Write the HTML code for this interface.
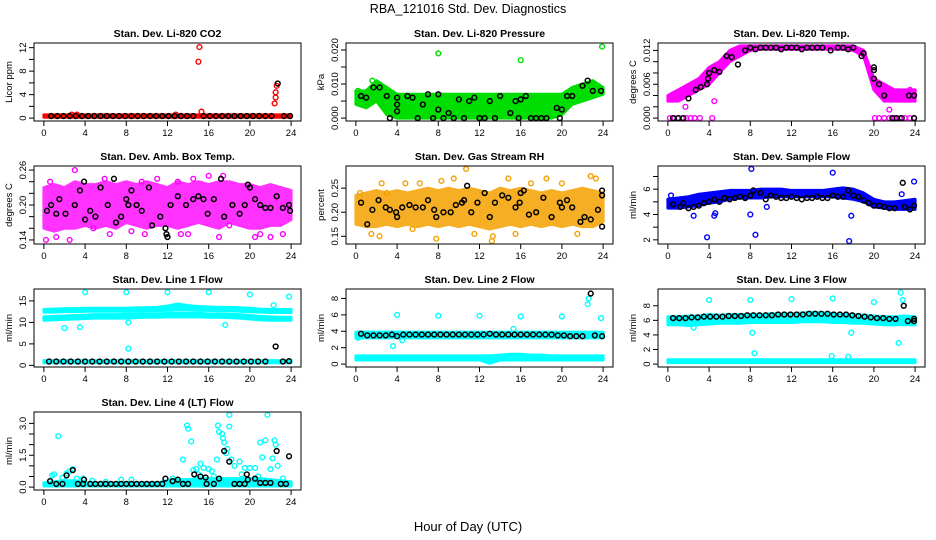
<!DOCTYPE html>
<html><head><meta charset="utf-8"><style>
body{margin:0;background:#fff}
svg{display:block;font-family:"Liberation Sans",sans-serif}
</style></head><body>
<svg id="chart" width="936" height="540" viewBox="0 0 936 540">
<rect width="936" height="540" fill="#fff"/>
<text x="468" y="13" font-size="12.5" text-anchor="middle">RBA_121016  Std. Dev. Diagnostics</text>
<text x="468" y="531" font-size="13" text-anchor="middle">Hour of Day (UTC)</text>
</svg>
<script>
const T=[0,1,2,3,4,5,6,7,8,9,10,11,12,13,14,15,16,17,18,19,20,21,22,23,24];
const XTICKS=[0,4,8,12,16,20,24];
// Panel 1 CO2
const co2Lo=T.map(()=>0.15);
const co2Hi=T.map(()=>0.55);
const co2Pts=[[15.0,9.6],[15.1,12.1],[15.3,1.1],[22.4,2.5],[22.5,3.5],[22.5,4.4],[22.6,5.5],[2.7,0.6],[3.2,0.6],[12.8,0.6]];
const co2Blk=[[0.7,0.35],[1.3,0.35],[1.9,0.35],[2.5,0.35],[3.1,0.35],[3.7,0.35],[4.3,0.35],[4.9,0.35],[5.5,0.35],[6.1,0.35],[6.7,0.35],[7.3,0.35],[7.9,0.35],[8.5,0.35],[9.1,0.35],[9.7,0.35],[10.3,0.35],[10.9,0.35],[11.5,0.35],[12.1,0.35],[12.7,0.35],[13.3,0.35],[13.9,0.35],[14.5,0.35],[15.5,0.35],[16.1,0.35],[16.7,0.35],[17.3,0.35],[17.9,0.35],[18.5,0.35],[19.1,0.35],[19.7,0.35],[20.3,0.35],[20.9,0.35],[21.5,0.35],[22.1,0.35],[22.7,5.9],[23.3,0.35],[23.9,0.35]];
// Panel 2 Pressure
const prLo=[0.004,0.003,0.005,0.001,0,0,0,0,0,0,0,0,0,0,0,0,0,0,0,0,0.001,0.004,0.005,0.006,0.007];
const prHi=[0.008,0.008,0.011,0.009,0.007,0.007,0.007,0.007,0.007,0.007,0.007,0.007,0.007,0.007,0.007,0.007,0.007,0.007,0.007,0.007,0.007,0.009,0.010,0.011,0.009];
const prPts=[[8,0.019],[16,0.017],[23.9,0.021],[0.2,0.008],[1.6,0.011]];
const prBlk=[[0.5,0.0065],[1,0.006],[1.7,0.009],[2.3,0.009],[3,0.0065],[3.3,0],[4,0.002],[4,0.004],[4,0.006],[5,0.0065],[5.5,0.006],[6,0],[6.5,0.004],[7,0.007],[7.5,0],[8,0.007],[8,0.0025],[8.5,0],[9,0.0015],[9.5,0],[10,0.0055],[10.5,0],[11,0.005],[11.5,0.006],[12,0],[12.5,0],[13,0.005],[13.5,0],[14,0.0065],[15,0.0015],[15.5,0.005],[15.8,0],[16,0.0055],[16.5,0.0065],[17,0],[17.5,0],[18,0],[18.5,0],[19.5,0.003],[19.8,0],[20,0.0025],[20.5,0.0065],[21,0.0065],[22,0.0095],[22.5,0.011],[23,0.008],[23.8,0.008]];
// Panel 3 Temp
const tpLo=[0.003,0.003,0.004,0.005,0.006,0.008,0.010,0.011,0.012,0.0122,0.0122,0.0122,0.0122,0.0122,0.0122,0.0122,0.0122,0.0122,0.012,0.011,0.005,0.003,0.003,0.003,0.003];
const tpHi=[0.004,0.005,0.006,0.007,0.009,0.010,0.012,0.0128,0.0128,0.0128,0.0128,0.0128,0.0128,0.0128,0.0128,0.0128,0.0128,0.0128,0.0128,0.012,0.007,0.006,0.005,0.005,0.005];
const tpPts=[[0.2,0],[0.6,0],[1.0,0],[1.4,0],[1.8,0],[2.2,0],[2.6,0],[3.1,0],[4.3,0],[20.1,0],[20.5,0],[21,0],[21.5,0],[22,0],[22.5,0],[23,0],[23.5,0],[23.9,0],[1.7,0.002],[4.5,0.003],[20.5,0.005],[21.5,0.0015],[23.5,0.005]];
const tpBlk=[[0.5,0],[1,0],[1.5,0],[2,0.0035],[2.7,0.005],[3.2,0.0055],[3.8,0.006],[3.9,0.007],[4,0.008],[4.5,0.0085],[5,0.0082],[5.7,0.011],[6.2,0.0108],[6.8,0.0095],[7.5,0.012],[8,0.0125],[8.5,0.0122],[9,0.0125],[9.5,0.0125],[10,0.0125],[10.5,0.0125],[11,0.0122],[11.5,0.0125],[12,0.0125],[12.5,0.0125],[13,0.0122],[13.5,0.0125],[14,0.0125],[14.5,0.0125],[15,0.0125],[15.8,0.012],[16.5,0.0125],[17,0.0125],[17.5,0.0122],[18,0.0125],[18.8,0.011],[19,0.0115],[20,0.009],[20,0.0085],[20,0.007],[20.5,0.006],[21,0.004],[21.8,0],[22.2,0],[22.7,0],[23.4,0.004],[23.9,0.004],[23.9,0]];
// Panel 4 Amb Box Temp
const abLo=[0.16,0.155,0.16,0.16,0.165,0.16,0.165,0.16,0.17,0.165,0.16,0.165,0.165,0.16,0.165,0.17,0.165,0.16,0.17,0.165,0.16,0.16,0.165,0.165,0.175];
const abHi=[0.23,0.235,0.23,0.24,0.235,0.235,0.24,0.235,0.24,0.235,0.24,0.235,0.23,0.24,0.235,0.24,0.235,0.24,0.24,0.235,0.235,0.23,0.235,0.23,0.225];
const abPts=[[0.2,0.14],[0.6,0.24],[1.2,0.145],[2.5,0.14],[3.0,0.26],[5.9,0.245],[6.4,0.15],[9.8,0.15],[11.0,0.245],[13.0,0.24],[13.3,0.15],[14.0,0.15],[14.5,0.245],[16.0,0.25],[17.0,0.145],[17.4,0.25],[20.5,0.145],[21.0,0.15],[22.0,0.145],[23.2,0.15],[8.5,0.155],[9.5,0.24],[18.0,0.165],[4.8,0.16]];
const abBlk=[[0.3,0.19],[0.7,0.2],[1.2,0.185],[1.5,0.21],[2.1,0.185],[3.0,0.2],[3.5,0.225],[3.9,0.24],[4.0,0.175],[4.5,0.19],[5.0,0.18],[5.5,0.23],[6.2,0.2],[6.8,0.245],[7.0,0.17],[7.5,0.18],[8.0,0.21],[8.2,0.2],[8.5,0.225],[9.0,0.2],[9.5,0.19],[10.2,0.23],[10.5,0.165],[11.3,0.18],[11.8,0.16],[11.9,0.15],[12.0,0.145],[12.3,0.2],[13.0,0.215],[13.8,0.2],[14.5,0.21],[15.0,0.215],[15.5,0.21],[15.9,0.185],[16.5,0.21],[17.2,0.245],[17.5,0.18],[18.3,0.2],[19.0,0.185],[19.5,0.2],[19.8,0.235],[20.0,0.23],[20.5,0.21],[21.0,0.2],[21.5,0.195],[22.0,0.195],[22.6,0.215],[23.2,0.195],[23.8,0.2],[23.9,0.19]];
// Panel 5 RH
const rhLo=[0.175,0.17,0.17,0.175,0.17,0.175,0.17,0.175,0.17,0.175,0.17,0.175,0.17,0.165,0.17,0.175,0.17,0.175,0.17,0.175,0.17,0.175,0.17,0.17,0.18];
const rhHi=[0.235,0.24,0.245,0.24,0.245,0.24,0.245,0.25,0.245,0.25,0.245,0.25,0.245,0.24,0.25,0.245,0.25,0.245,0.24,0.245,0.24,0.245,0.25,0.245,0.24];
const rhPts=[[0.4,0.24],[1.5,0.155],[2.5,0.26],[3,0.24],[4.8,0.26],[6.2,0.26],[8.3,0.265],[9.5,0.27],[10.7,0.29],[13.2,0.14],[13.3,0.15],[14.8,0.27],[15.5,0.155],[18.5,0.27],[22.8,0.275],[23.3,0.27],[7.8,0.145],[2.3,0.15],[17,0.26],[20,0.26],[11.5,0.155],[21.5,0.155],[5.5,0.165]];
const rhBlk=[[0.5,0.22],[1.1,0.175],[1.6,0.205],[2.2,0.225],[2.9,0.21],[3.3,0.205],[3.9,0.2],[4.0,0.19],[4.5,0.21],[5.2,0.215],[5.8,0.21],[6.5,0.21],[7.0,0.225],[7.6,0.205],[7.8,0.19],[8.5,0.2],[9.2,0.2],[9.7,0.215],[10.3,0.22],[10.5,0.225],[10.8,0.255],[11.2,0.2],[11.8,0.22],[12.5,0.24],[13.0,0.19],[13.5,0.22],[14.2,0.235],[14.8,0.23],[15.5,0.21],[15.9,0.22],[16.0,0.24],[16.3,0.245],[16.8,0.195],[17.5,0.2],[18.2,0.23],[19.0,0.19],[19.8,0.22],[20.0,0.21],[20.5,0.225],[21.0,0.21],[21.8,0.18],[22.2,0.19],[22.8,0.185],[23.5,0.205],[23.9,0.17],[23.9,0.245],[23.9,0.235]];
// Panel 6 Sample Flow
const sfLo=[4.5,4.5,4.6,4.7,4.9,5.0,5.2,5.3,5.3,5.3,5.4,5.4,5.4,5.4,5.4,5.4,5.4,5.3,5.2,5.0,4.6,4.5,4.4,4.4,4.4];
const sfHi=[5.2,5.3,5.4,5.6,5.7,5.8,5.9,5.9,5.9,6.0,6.0,6.0,5.9,5.9,5.9,5.9,6.0,6.1,6.0,5.7,5.2,5.0,5.0,5.1,5.2];
const sfPts=[[3.8,2.2],[8.1,7.6],[8.5,2.4],[16,7.3],[17.6,1.9],[23.9,6.6],[2.5,3.9],[4.5,3.9],[4.6,4.1],[8,4.0],[17.8,3.9],[9.6,4.6],[0.3,5.5],[22.7,5.6]];
const sfBlk=[[0.5,4.8],[1.2,4.6],[1.5,4.9],[2,4.5],[2.5,4.6],[3,4.7],[3.5,4.9],[4,5],[4.5,5.2],[5,5],[5.5,5.3],[6,5.2],[6.5,5.3],[7,5.4],[7.5,5.3],[8,5.5],[8.3,5.9],[9,5.7],[9.5,5.2],[10,5.5],[10.5,5.4],[11,5.3],[11.5,5.3],[12,5.4],[12.5,5.3],[13,5.2],[13.5,5.3],[14,5.3],[14.5,5.4],[15,5.3],[15.5,5.3],[16,5.5],[16.5,5.4],[17,5.4],[17.5,5.9],[18,5.5],[18.5,5.4],[19,5.1],[19.5,4.9],[20,4.7],[20.5,4.7],[21,4.6],[21.5,4.5],[22,4.5],[22.8,6.5],[23,4.6],[23.5,4.4],[23.9,4.7]];
// Panel 7 Line 1 Flow
const l1aLo=[12.4,12.4,12.5,12.5,12.6,12.6,12.6,12.6,12.6,12.6,12.7,12.7,12.8,13.0,12.9,12.8,12.8,12.7,12.7,12.6,12.5,12.4,12.3,12.3,12.3];
const l1aHi=[13.0,13.1,13.2,13.2,13.3,13.3,13.3,13.3,13.3,13.4,13.4,13.5,13.8,14.3,13.9,13.7,13.6,13.5,13.5,13.4,13.3,13.1,13.0,13.0,13.0];
const l1bLo=[10.5,10.6,10.7,10.8,10.9,11.0,11.0,11.0,11.0,11.1,11.2,11.2,11.3,11.3,11.3,11.3,11.2,11.2,11.1,11.0,10.8,10.6,10.5,10.5,10.5];
const l1bHi=[11.3,11.4,11.5,11.6,11.7,11.8,11.8,11.8,11.9,11.9,12.0,12.0,12.1,12.2,12.1,12.1,12.0,12.0,11.9,11.8,11.6,11.4,11.3,11.2,11.2];
const l1cLo=T.map(()=>0.6);
const l1cHi=T.map(()=>1.1);
const l1Pts=[[4,17],[8,17],[12,17],[16,17],[20,16.5],[23.8,16],[8.2,3.9],[2,8.7],[3.5,8.9],[8.2,10],[17.6,9.4],[22.3,14]];
const l1Blk=[[0.5,0.9],[1.2,0.9],[1.9,0.9],[2.6,0.9],[3.3,0.9],[4,0.9],[4.7,0.9],[5.4,0.9],[6.1,0.9],[6.8,0.9],[7.5,0.9],[8.2,0.9],[8.9,0.9],[9.6,0.9],[10.3,0.9],[11,0.9],[11.7,0.9],[12.4,0.9],[13.1,0.9],[13.8,0.9],[14.5,0.9],[15.2,0.9],[15.9,0.9],[16.6,0.9],[17.3,0.9],[18,0.9],[18.7,0.9],[19.4,0.9],[20.1,0.9],[20.8,0.9],[21.5,0.9],[22.5,4.4],[23.2,0.9],[23.8,1.0]];
// Panel 8 Line 2 Flow
const l2aLo=T.map(()=>3.2);
const l2aHi=T.map(()=>3.9);
const l2bLo=[0.5,0.5,0.5,0.5,0.5,0.5,0.5,0.5,0.5,0.5,0.5,0.5,0.5,0.1,0.5,0.5,0.5,0.5,0.5,0.5,0.5,0.5,0.5,0.5,0.5];
const l2bHi=[1.0,1.0,1.0,1.0,1.0,1.0,1.0,1.0,1.0,1.0,1.0,1.0,1.0,1.0,1.1,1.2,1.2,1.1,1.1,1.0,1.0,1.0,1.0,1.0,1.0];
const l2Pts=[[4,6],[8,5.9],[12,5.9],[16,5.8],[20,5.8],[23.8,5.6],[3.6,2.2],[4.5,2.9],[22.5,7.3],[22.6,8],[15.3,4.3],[0.2,3.2]];
const l2Blk=[[0.5,3.7],[1.1,3.5],[1.7,3.5],[2.3,3.5],[2.9,3.5],[3.5,3.6],[4,3.4],[4.6,3.6],[5.2,3.6],[5.8,3.6],[6.4,3.6],[7,3.6],[7.6,3.6],[8.2,3.6],[8.8,3.6],[9.4,3.6],[10,3.6],[10.6,3.6],[11.2,3.6],[11.8,3.6],[12.4,3.6],[13,3.7],[13.6,3.6],[14.2,3.6],[14.8,3.6],[15.4,3.6],[16,3.6],[16.6,3.6],[17.2,3.6],[17.8,3.6],[18.4,3.6],[19,3.6],[19.6,3.5],[20.2,3.5],[20.8,3.4],[21.4,3.4],[22,3.4],[22.8,8.6],[23.2,3.5],[23.9,3.4]];
// Panel 9 Line 3 Flow
const l3aLo=[5.4,5.4,5.3,5.4,5.5,5.6,5.6,5.6,5.7,5.7,5.7,5.7,5.7,5.8,5.8,5.8,5.7,5.7,5.6,5.6,5.5,5.4,5.4,5.4,5.4];
const l3aHi=[6.5,6.5,6.6,6.6,6.8,6.7,6.8,6.8,6.8,6.8,6.9,6.9,6.9,7.0,7.1,7.0,6.9,6.8,6.8,6.7,6.6,6.5,6.5,6.6,6.5];
const l3bLo=T.map(()=>0.2);
const l3bHi=T.map(()=>0.6);
const l3Pts=[[4,8.8],[8,8.8],[12,8.9],[16,9],[20,8.5],[22.6,9.8],[22.8,8.8],[8.2,4.3],[8.4,1.5],[17.8,4.3],[22.4,2.9],[15.9,1.1],[17.5,1.0],[2.5,5.0]];
const l3Blk=[[0.5,6.3],[1.1,6.3],[1.7,6.3],[2.3,6.4],[2.9,6.4],[3.5,6.5],[4.1,6.5],[4.7,6.5],[5.3,6.5],[5.9,6.6],[6.5,6.6],[7.1,6.6],[7.7,6.7],[8.3,6.7],[8.9,6.7],[9.5,6.7],[10.1,6.7],[10.7,6.8],[11.3,6.8],[11.9,6.8],[12.5,6.8],[13.1,6.8],[13.7,6.9],[14.3,6.9],[14.9,6.9],[15.5,6.9],[16.1,6.8],[16.7,6.8],[17.3,6.8],[17.9,6.7],[18.5,6.6],[19.1,6.5],[19.7,6.4],[20.3,6.3],[20.9,6.3],[21.5,6.2],[22.1,6.2],[22.9,8.0],[23.3,5.9],[23.9,5.9],[23.9,6.2]];
// Panel 10 Line 4 (LT) Flow
const l4Lo=T.map(()=>0.05);
const l4Hi=[0.2,0.25,0.3,0.3,0.2,0.2,0.2,0.2,0.2,0.2,0.2,0.2,0.3,0.35,0.35,0.4,0.4,0.4,0.4,0.4,0.4,0.4,0.35,0.3,0.25];
const l4Pts=[[0.8,0.55],[1,0.6],[1.4,2.4],[1.8,0.45],[2.2,0.65],[2.5,0.75],[2.8,0.85],[3.2,0.4],[3.8,0.4],[4.7,0.3],[6,0.25],[7.5,0.35],[8.5,0.35],[13.5,1.3],[13.9,2.9],[14,2.75],[14.3,2.15],[14.5,0.8],[14.8,0.85],[15.2,1.1],[15.5,0.9],[16,0.85],[16.3,0.75],[16.8,1.3],[16.9,2.9],[17,2.6],[17.3,2.5],[17.4,2.3],[17.5,2.1],[17.7,1.6],[17.8,1.8],[18,3.4],[18,2.85],[18.2,1.3],[18.5,1.0],[19,1.2],[19.5,0.9],[20,0.9],[20.5,0.9],[21,2.1],[21.2,1.4],[21.5,2.2],[21.7,3.4],[22,0.85],[22.2,1.35],[22.4,2.2],[22.5,2.0],[22.7,1.0],[23.2,0.4],[12.5,0.4],[15,0.6],[16.5,0.5],[19.2,0.6],[20.8,0.5],[13,0.35]];
const l4Blk=[[0.6,0.28],[1.2,0.15],[1.8,0.15],[2.2,0.55],[2.8,0.8],[3.3,0.15],[3.8,0.15],[3.9,0.35],[4.5,0.15],[5,0.15],[5.5,0.15],[6,0.15],[6.5,0.15],[7,0.15],[7.5,0.15],[8,0.15],[8.5,0.15],[9,0.15],[9.5,0.15],[10,0.15],[10.5,0.15],[11,0.15],[11.5,0.15],[11.8,0.4],[12.5,0.28],[13,0.35],[13.5,0.15],[14,0.15],[14.6,0.6],[15.2,0.5],[15.7,0.45],[15.8,0.15],[16.5,0.15],[17,0.4],[17.5,1.7],[18,1.2],[18.5,0.15],[19,0.15],[19.5,0.15],[19.7,0.6],[19.8,0.35],[20.5,0.4],[21,0.2],[21.5,0.2],[22,0.2],[22.6,1.7],[23,0.15],[23.5,0.15],[23.8,1.45]];

const panels=[
 {name:'co2',title:'Stan. Dev. Li-820 CO2',ylab:'Licor ppm',lo:0,hi:12.3,ticks:[0,2,4,6,8,10,12],labels:[0,4,8,12],fmt:v=>String(v),color:'#ff0000',op:1,bands:[[co2Lo,co2Hi]],pts:co2Pts,blk:co2Blk},
 {name:'pressure',title:'Stan. Dev. Li-820 Pressure',ylab:'kPa',lo:0,hi:0.0212,ticks:[0,0.005,0.01,0.015,0.02],labels:[0,0.01,0.02],fmt:v=>v.toFixed(3),color:'#00dd00',op:1,bands:[[prLo,prHi]],pts:prPts,blk:prBlk},
 {name:'temp',title:'Stan. Dev. Li-820 Temp.',ylab:'degrees C',lo:0,hi:0.0128,ticks:[0,0.002,0.004,0.006,0.008,0.01,0.012],labels:[0,0.006,0.012],fmt:v=>v.toFixed(3),color:'#ff00ff',op:1,bands:[[tpLo,tpHi]],pts:tpPts,blk:tpBlk},
 {name:'amb-box-temp',title:'Stan. Dev. Amb. Box Temp.',ylab:'degrees C',lo:0.138,hi:0.262,ticks:[0.14,0.16,0.18,0.2,0.22,0.24,0.26],labels:[0.14,0.2,0.26],fmt:v=>v.toFixed(2),color:'#ff00ff',op:0.8,bands:[[abLo,abHi]],pts:abPts,blk:abBlk},
 {name:'rh',title:'Stan. Dev. Gas Stream RH',ylab:'percent',lo:0.14,hi:0.29,ticks:[0.15,0.2,0.25],labels:[0.15,0.2,0.25],fmt:v=>v.toFixed(2),color:'#f5a000',op:0.85,bands:[[rhLo,rhHi]],pts:rhPts,blk:rhBlk},
 {name:'sample-flow',title:'Stan. Dev. Sample Flow',ylab:'ml/min',lo:1.9,hi:7.6,ticks:[2,3,4,5,6,7],labels:[2,4,6],fmt:v=>String(v),color:'#0000ff',op:1,bands:[[sfLo,sfHi]],pts:sfPts,blk:sfBlk},
 {name:'line1-flow',title:'Stan. Dev. Line 1 Flow',ylab:'ml/min',lo:0.3,hi:17.1,ticks:[0,5,10,15],labels:[0,5,10,15],fmt:v=>String(v),color:'#00ffff',op:1,bands:[[l1aLo,l1aHi],[l1bLo,l1bHi],[l1cLo,l1cHi]],pts:l1Pts,blk:l1Blk},
 {name:'line2-flow',title:'Stan. Dev. Line 2 Flow',ylab:'ml/min',lo:0,hi:8.8,ticks:[0,2,4,6,8],labels:[0,2,4,6,8],fmt:v=>String(v),color:'#00ffff',op:1,bands:[[l2aLo,l2aHi],[l2bLo,l2bHi]],pts:l2Pts,blk:l2Blk},
 {name:'line3-flow',title:'Stan. Dev. Line 3 Flow',ylab:'ml/min',lo:0,hi:9.9,ticks:[0,2,4,6,8],labels:[0,2,4,6,8],fmt:v=>String(v),color:'#00ffff',op:1,bands:[[l3aLo,l3aHi],[l3bLo,l3bHi]],pts:l3Pts,blk:l3Blk},
 {name:'line4-flow',title:'Stan. Dev. Line 4 (LT) Flow',ylab:'ml/min',lo:0,hi:3.4,ticks:[0,0.5,1,1.5,2,2.5,3],labels:[0,1.5,3],fmt:v=>v.toFixed(1),color:'#00ffff',op:1,bands:[[l4Lo,l4Hi]],pts:l4Pts,blk:l4Blk}
];

const NS='http://www.w3.org/2000/svg';
const svg=document.getElementById('chart');
function mk(tag,attrs,parent){const e=document.createElementNS(NS,tag);for(const k in attrs)e.setAttribute(k,attrs[k]);parent.appendChild(e);return e;}

panels.forEach((p,i)=>{
 const c=i%3,r=Math.floor(i/3);
 const L=34+312*c,R=301+312*c,Tp=43+123*r,B=121+123*r;
 const xs=v=>L+9.9+v*(R-L-19.8)/24;
 const ys=v=>B-2.9-(v-p.lo)/(p.hi-p.lo)*(B-Tp-5.8);
 const g=mk('g',{},svg);
 
 
 const t=mk('text',{x:(L+R)/2,y:Tp-6,'font-size':10.5,'font-weight':'bold','text-anchor':'middle'},g);
 t.textContent=p.title;
 
 
 const yl=mk('text',{x:0,y:0,'font-size':9.5,'text-anchor':'middle',transform:`translate(${L-22},${(Tp+B)/2}) rotate(-90)`},g);
 yl.textContent=p.ylab;
 
 
 p.bands.forEach((b,bi)=>{
  let pts=T.map((x,k)=>xs(x)+','+ys(b[1][k]));
  for(let k=T.length-1;k>=0;k--)pts.push(xs(T[k])+','+ys(b[0][k]));
  const pg=mk('polygon',{points:pts.join(' '),fill:p.color,stroke:p.color,'stroke-width':3,'stroke-linejoin':'round',opacity:p.op},g);
  
  
 });
 p.pts.forEach(d=>{
  const ci=mk('circle',{cx:xs(d[0]),cy:ys(d[1]),r:2.4,fill:'none',stroke:p.color,'stroke-width':1.4},g);
  
  
 });
 p.blk.forEach(d=>{
  const ci=mk('circle',{cx:xs(d[0]),cy:ys(d[1]),r:2.4,fill:'none',stroke:'#000','stroke-width':1.5},g);
  
  
 });
 const bx=mk('rect',{x:L,y:Tp,width:R-L,height:B-Tp,fill:'none',stroke:'#000','stroke-width':1},g);
 
 
 XTICKS.forEach(v=>{
  mk('line',{x1:xs(v),x2:xs(v),y1:B,y2:B+5,stroke:'#000'},g);
  const tl=mk('text',{x:xs(v),y:B+15,'font-size':9.5,'text-anchor':'middle'},g);
  tl.textContent=v;
  
  
 });
 p.ticks.forEach(v=>{
  mk('line',{x1:L-5,x2:L,y1:ys(v),y2:ys(v),stroke:'#000'},g);
 });
 p.labels.forEach(v=>{
  const tl=mk('text',{x:0,y:0,'font-size':9.5,'text-anchor':'middle',transform:`translate(${L-8},${ys(v)}) rotate(-90)`},g);
  tl.textContent=p.fmt(v);
  
  
 });
});
</script>
</body></html>
